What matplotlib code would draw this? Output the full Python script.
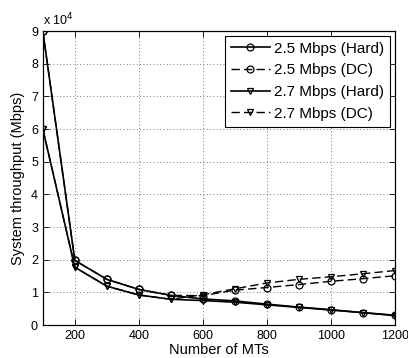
import matplotlib
matplotlib.use("Agg")
import matplotlib.pyplot as plt
from matplotlib.ticker import FuncFormatter

plt.rcParams['font.family'] = ['Liberation Sans', 'DejaVu Sans']

# number of MTs
mts = [100, 200, 300, 400, 500, 600, 700, 800, 900, 1000, 1100, 1200]

# system throughput (Mbps)
hard_25 = [90000, 19800, 14000, 10900, 9100, 8000, 7400, 6400, 5500, 4700, 3800, 3000]
dc_25 = [90000, 19800, 14000, 10900, 9100, 9000, 10700, 11500, 12400, 13400, 14200, 15100]
hard_27 = [60000, 17700, 11900, 9200, 7900, 7500, 7000, 6200, 5400, 4600, 3800, 2900]
dc_27 = [60000, 17700, 11900, 9200, 7900, 9300, 11100, 12900, 14000, 14800, 15700, 16700]

fig = plt.figure(figsize=(4.08, 3.58), dpi=100)
ax = fig.add_axes([0.105, 0.092, 0.863, 0.821])

ms = 5
ax.plot(mts, hard_25, '-', color='k', lw=1.2, marker='o', ms=ms, mfc='none', mew=0.9, label='2.5 Mbps (Hard)')
ax.plot(mts, dc_25, '--', color='k', lw=1.0, marker='o', ms=ms, mfc='none', mew=0.9, dashes=(6, 3), label='2.5 Mbps (DC)')
ax.plot(mts, hard_27, '-', color='k', lw=1.2, marker='v', ms=ms, mfc='none', mew=0.9, label='2.7 Mbps (Hard)')
ax.plot(mts, dc_27, '--', color='k', lw=1.0, marker='v', ms=ms, mfc='none', mew=0.9, dashes=(6, 3), label='2.7 Mbps (DC)')

ax.set_xlim(100, 1200)
ax.set_ylim(0, 90000)
ax.set_xticks(range(200, 1201, 200))
ax.set_yticks(range(0, 90001, 10000))
ax.yaxis.set_major_formatter(FuncFormatter(lambda v, p: '%d' % round(v / 10000)))
ax.tick_params(direction='in', labelsize=9, top=True, right=True, length=4, width=0.6)
ax.grid(True, linestyle=(0, (1, 3)), color='k', lw=0.6, alpha=0.7)
for s in ax.spines.values():
    s.set_linewidth(0.9)

ax.text(0.0, 1.01, 'x 10$^4$', transform=ax.transAxes, fontsize=9, ha='left', va='bottom')
ax.set_xlabel('Number of MTs', fontsize=10.5, labelpad=1)
ax.set_ylabel('System throughput (Mbps)', fontsize=10.5, labelpad=4)

leg = ax.legend(loc='upper right', fontsize=11, numpoints=1, fancybox=False, edgecolor='k',
                framealpha=1, borderpad=0.4, labelspacing=0.5, handlelength=2.5, handletextpad=0.3,
                borderaxespad=0.3)
leg.get_frame().set_linewidth(0.8)

fig.savefig('out.png', dpi=100)
